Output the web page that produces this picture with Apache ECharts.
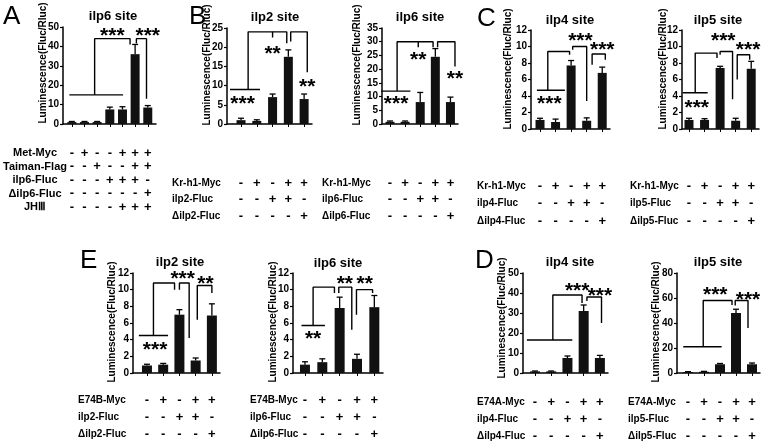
<!DOCTYPE html>
<html><head><meta charset="utf-8">
<script src="https://cdn.jsdelivr.net/npm/echarts@6/dist/echarts.min.js"></script>
<style>html,body{margin:0;padding:0;background:#fff}#c{width:762px;height:445px}</style>
</head><body><div id="c"></div>
<script>
// ================= DATA =================
// Panel A : ilp6 site (Met / Taiman)
const A_title = 'ilp6 site';
const A_rowNames = ['Met-Myc', 'Taiman-Flag', 'ilp6-Fluc', 'Δilp6-Fluc', 'JHⅢ'];
const A_signs = ['-+--+++', '--+--++', '---+++-', '------+', '----+++'];
const A_values = [1.0, 1.0, 1.0, 7.5, 7.5, 36, 8.5];
const A_errors = [0.3, 0.3, 0.3, 1.2, 1.4, 5, 1.0];
const A_yTicks = [0, 10, 20, 30, 40, 50];
const A_brackets = [
  [[-0.2, 15], [4.05, 15]],
  [[1.8, 15], [1.8, 44], [4.6, 44], [4.6, 41]],
  [[5.1, 41.5], [5.1, 44], [5.9, 44], [5.9, 13]]
];
const A_stars = [[3.2, 48, '***'], [6.0, 48, '***']];

// Panel B left : ilp2 site (Kr-h1)
const B2_title = 'ilp2 site';
const B2_rowNames = ['Kr-h1-Myc', 'ilp2-Fluc', 'Δilp2-Fluc'];
const B2_signs = ['-+-++', '--++-', '----+'];
const B2_values = [1.0, 0.8, 7.0, 17.5, 6.5];
const B2_errors = [0.5, 0.3, 0.8, 1.8, 1.3];
const B2_yTicks = [0, 5, 10, 15, 20, 25];
const B2_brackets = [
  [[-0.7, 9], [1.2, 9]],
  [[0.45, 9], [0.45, 24], [2.9, 24], [2.9, 21]],
  [[2.0, 24], [2.0, 22.5]],
  [[3.15, 21.5], [3.15, 24], [4.2, 24], [4.2, 13.5]]
];
const B2_stars = [[0.1, 6.5, '***'], [2.0, 19.5, '**'], [4.2, 11, '**']];

// Panel B right : ilp6 site (Kr-h1)
const B6_title = 'ilp6 site';
const B6_rowNames = ['Kr-h1-Myc', 'ilp6-Fluc', 'Δilp6-Fluc'];
const B6_signs = ['-+-++', '--++-', '----+'];
const B6_values = [0.8, 0.8, 8.0, 24.5, 8.0];
const B6_errors = [0.3, 0.3, 3.5, 3.0, 1.8];
const B6_yTicks = [0, 5, 10, 15, 20, 25, 30, 35];
const B6_brackets = [
  [[-0.6, 12], [1.35, 12]],
  [[0.47, 12], [0.47, 30], [2.85, 30], [2.85, 28]],
  [[1.87, 30], [1.87, 28]],
  [[3.15, 28], [3.15, 30], [4.3, 30], [4.3, 21]]
];
const B6_stars = [[0.4, 9, '***'], [1.87, 25, '**'], [4.3, 18, '**']];

// Panel C left : ilp4 site (Kr-h1)
const C4_title = 'ilp4 site';
const C4_rowNames = ['Kr-h1-Myc', 'ilp4-Fluc', 'Δilp4-Fluc'];
const C4_signs = ['-+-++', '--++-', '----+'];
const C4_values = [1.1, 0.85, 7.7, 1.0, 6.8];
const C4_errors = [0.2, 0.35, 0.6, 0.35, 0.7];
const C4_yTicks = [0, 2, 4, 6, 8, 10, 12];
const C4_brackets = [
  [[-0.2, 4.7], [1.6, 4.7]],
  [[0.5, 4.7], [0.5, 9.4], [1.9, 9.4], [1.9, 9.0]],
  [[2.1, 9.6], [2.1, 10], [3.0, 10], [3.0, 3.4]],
  [[3.35, 7.8], [3.35, 9.1], [4.2, 9.1], [4.2, 8.4]]
];
const C4_stars = [[0.6, 3.6, '***'], [2.6, 11.2, '***'], [4.0, 10.1, '***']];

// Panel C right : ilp5 site (Kr-h1)
const C5_title = 'ilp5 site';
const C5_rowNames = ['Kr-h1-Myc', 'ilp5-Fluc', 'Δilp5-Fluc'];
const C5_signs = ['-+-++', '--++-', '----+'];
const C5_values = [1.1, 1.1, 7.4, 1.0, 7.3];
const C5_errors = [0.2, 0.15, 0.2, 0.3, 0.9];
const C5_yTicks = [0, 2, 4, 6, 8, 10, 12];
const C5_brackets = [
  [[-0.4, 4.4], [1.2, 4.4]],
  [[0.4, 4.4], [0.4, 9.2], [1.8, 9.2], [1.8, 8.6]],
  [[2.0, 9.0], [2.0, 9.4], [2.8, 9.4], [2.8, 3.6]],
  [[3.1, 6.0], [3.1, 9.0], [3.9, 9.0], [3.9, 8.4]]
];
const C5_stars = [[0.5, 3.1, '***'], [2.2, 11.2, '***'], [3.8, 10.2, '***']];

// Panel E left : ilp2 site (E74B)
const E2_title = 'ilp2 site';
const E2_rowNames = ['E74B-Myc', 'ilp2-Fluc', 'Δilp2-Fluc'];
const E2_signs = ['-+-++', '--++-', '----+'];
const E2_values = [0.9, 1.0, 7.0, 1.5, 6.9];
const E2_errors = [0.15, 0.15, 0.6, 0.3, 1.4];
const E2_yTicks = [0, 2, 4, 6, 8, 10, 12];
const E2_brackets = [
  [[-0.5, 4.5], [1.3, 4.5]],
  [[0.4, 4.5], [0.4, 10.8], [1.7, 10.8], [1.7, 10.0]],
  [[2.0, 10.0], [2.0, 10.8], [2.6, 10.8], [2.6, 4.2]],
  [[3.1, 6.4], [3.1, 10.5], [4.0, 10.5], [4.0, 9.6]]
];
const E2_stars = [[0.5, 3.3, '***'], [2.2, 11.8, '***'], [3.6, 11.3, '**']];

// Panel E right : ilp6 site (E74B)
const E6_title = 'ilp6 site';
const E6_rowNames = ['E74B-Myc', 'ilp6-Fluc', 'Δilp6-Fluc'];
const E6_signs = ['-+-++', '--++-', '----+'];
const E6_values = [1.0, 1.3, 7.8, 1.7, 7.9];
const E6_errors = [0.35, 0.4, 1.3, 0.55, 1.4];
const E6_yTicks = [0, 2, 4, 6, 8, 10, 12];
const E6_brackets = [
  [[-0.2, 5.7], [1.15, 5.7]],
  [[0.47, 5.7], [0.47, 10.3], [1.7, 10.3], [1.7, 9.6]],
  [[1.95, 9.6], [1.95, 10.3], [2.7, 10.3], [2.7, 5.2]],
  [[2.97, 7.0], [2.97, 10.0], [3.9, 10.0], [3.9, 9.6]]
];
const E6_stars = [[0.47, 4.6, '**'], [2.3, 11.2, '**'], [3.45, 11.2, '**']];

// Panel D left : ilp4 site (E74A)
const D4_title = 'ilp4 site';
const D4_rowNames = ['E74A-Myc', 'ilp4-Fluc', 'Δilp4-Fluc'];
const D4_signs = ['-+-++', '--++-', '----+'];
const D4_values = [0.8, 0.8, 7.5, 31, 7.5];
const D4_errors = [0.2, 0.2, 1.0, 3.0, 1.3];
const D4_yTicks = [0, 10, 20, 30, 40, 50];
const D4_brackets = [
  [[-0.5, 16.5], [2.3, 16.5]],
  [[1.1, 16.5], [1.1, 39], [2.9, 39], [2.9, 35]],
  [[3.2, 36], [3.2, 38], [4.1, 38], [4.1, 25]]
];
const D4_stars = [[2.6, 43.5, '***'], [4.0, 41, '***']];

// Panel D right : ilp5 site (E74A)
const D5_title = 'ilp5 site';
const D5_rowNames = ['E74A-Myc', 'ilp5-Fluc', 'Δilp5-Fluc'];
const D5_signs = ['-+-++', '--++-', '----+'];
const D5_values = [0.8, 1.0, 7.0, 48, 7.0];
const D5_errors = [0.3, 0.3, 0.6, 3.0, 1.0];
const D5_yTicks = [0, 20, 40, 60, 80];
const D5_brackets = [
  [[-0.3, 21], [2.1, 21]],
  [[0.95, 21], [0.95, 58], [2.75, 58], [2.75, 54.5]],
  [[2.95, 54], [2.95, 58], [3.75, 58], [3.75, 36]]
];
const D5_stars = [[1.7, 66, '***'], [3.75, 62, '***']];

// ================= LAYOUT (pixels / styles only) =================
const FONT = '"Liberation Sans", Arial, sans-serif';
const panels = [
  {d: {title: A_title, rows: A_rowNames, signs: A_signs, values: A_values, errors: A_errors, yTicks: A_yTicks, brackets: A_brackets, stars: A_stars},
   left: 63, right: 156, top: 27, bottom: 124, xmin: -0.7, xmax: 6.65, barW: 9,
   ylabX: 43, ylabY: 63, titleX: 113, titleY: 16, rowX: 35, rowAlign: 'center', rowY0: 153, rowGap: 13.5, rowFont: 11},
  {d: {title: B2_title, rows: B2_rowNames, signs: B2_signs, values: B2_values, errors: B2_errors, yTicks: B2_yTicks, brackets: B2_brackets, stars: B2_stars},
   left: 227, right: 312, top: 28, bottom: 124, xmin: -0.89, xmax: 4.5, barW: 9,
   ylabX: 207, ylabY: 65, titleX: 275, titleY: 17, rowX: 172, rowAlign: 'left', rowY0: 183, rowGap: 16.5, rowFont: 10},
  {d: {title: B6_title, rows: B6_rowNames, signs: B6_signs, values: B6_values, errors: B6_errors, yTicks: B6_yTicks, brackets: B6_brackets, stars: B6_stars},
   left: 382, right: 458, top: 28, bottom: 124, xmin: -0.53, xmax: 4.5, barW: 9,
   ylabX: 357, ylabY: 65, titleX: 420, titleY: 17, rowX: 322, rowAlign: 'left', rowY0: 183, rowGap: 16.5, rowFont: 10},
  {d: {title: C4_title, rows: C4_rowNames, signs: C4_signs, values: C4_values, errors: C4_errors, yTicks: C4_yTicks, brackets: C4_brackets, stars: C4_stars},
   left: 531, right: 610, top: 30, bottom: 129, xmin: -0.58, xmax: 4.5, barW: 9,
   ylabX: 508, ylabY: 69, titleX: 570, titleY: 20, rowX: 477, rowAlign: 'left', rowY0: 186, rowGap: 17.5, rowFont: 10},
  {d: {title: C5_title, rows: C5_rowNames, signs: C5_signs, values: C5_values, errors: C5_errors, yTicks: C5_yTicks, brackets: C5_brackets, stars: C5_stars},
   left: 682, right: 759, top: 30, bottom: 129, xmin: -0.45, xmax: 4.5, barW: 9,
   ylabX: 663, ylabY: 69, titleX: 718, titleY: 20, rowX: 630, rowAlign: 'left', rowY0: 186, rowGap: 17.5, rowFont: 10},
  {d: {title: E2_title, rows: E2_rowNames, signs: E2_signs, values: E2_values, errors: E2_errors, yTicks: E2_yTicks, brackets: E2_brackets, stars: E2_stars},
   left: 133, right: 220, top: 273, bottom: 373, xmin: -0.86, xmax: 4.5, barW: 10,
   ylabX: 112, ylabY: 322, titleX: 180, titleY: 262, rowX: 78, rowAlign: 'left', rowY0: 400, rowGap: 17, rowFont: 10},
  {d: {title: E6_title, rows: E6_rowNames, signs: E6_signs, values: E6_values, errors: E6_errors, yTicks: E6_yTicks, brackets: E6_brackets, stars: E6_stars},
   left: 293, right: 383, top: 273, bottom: 373, xmin: -0.69, xmax: 4.5, barW: 10,
   ylabX: 273, ylabY: 322, titleX: 338, titleY: 263, rowX: 250, rowAlign: 'left', rowY0: 400, rowGap: 17, rowFont: 10},
  {d: {title: D4_title, rows: D4_rowNames, signs: D4_signs, values: D4_values, errors: D4_errors, yTicks: D4_yTicks, brackets: D4_brackets, stars: D4_stars},
   left: 523, right: 608, top: 273, bottom: 373, xmin: -0.74, xmax: 4.5, barW: 10,
   ylabX: 502, ylabY: 318, titleX: 570, titleY: 262, rowX: 477, rowAlign: 'left', rowY0: 402, rowGap: 17, rowFont: 10},
  {d: {title: D5_title, rows: D5_rowNames, signs: D5_signs, values: D5_values, errors: D5_errors, yTicks: D5_yTicks, brackets: D5_brackets, stars: D5_stars},
   left: 677, right: 760, top: 273, bottom: 373, xmin: -0.69, xmax: 4.5, barW: 10,
   ylabX: 656, ylabY: 322, titleX: 718, titleY: 262, rowX: 628, rowAlign: 'left', rowY0: 402, rowGap: 17, rowFont: 10}
];
const letters = [
  {t: 'A', x: 3, y: 4}, {t: 'B', x: 189, y: 4}, {t: 'C', x: 477, y: 6},
  {t: 'E', x: 80, y: 248}, {t: 'D', x: 475, y: 248}
];

// ================= BUILD =================
const grid = [], xAxis = [], yAxis = [], series = [], graphic = [];
const black = '#000';
panels.forEach((p, i) => {
  const d = p.d;
  const idx = d.values.map((_, k) => k);
  grid.push({left: p.left, top: p.top, width: p.right - p.left, height: p.bottom - p.top});
  xAxis.push({
    type: 'value', gridIndex: i, min: p.xmin, max: p.xmax,
    axisLine: {show: true, onZero: false, lineStyle: {color: black, width: 1.5}},
    axisTick: {show: true, customValues: idx, length: 3, lineStyle: {color: black, width: 1}},
    axisLabel: {
      show: true, customValues: idx, color: black, fontFamily: FONT, fontWeight: 'bold', fontSize: 13,
      lineHeight: p.rowGap, verticalAlign: 'top',
      margin: p.rowY0 - p.bottom - p.rowGap / 2,
      formatter: v => d.signs.map(s => s[Math.round(v)]).join('\n')
    },
    splitLine: {show: false}
  });
  const yt = d.yTicks;
  yAxis.push({
    type: 'value', gridIndex: i, min: yt[0], max: yt[yt.length - 1], interval: yt[1] - yt[0],
    axisLine: {show: true, onZero: false, lineStyle: {color: black, width: 1.5}},
    axisTick: {show: true, length: 3, lineStyle: {color: black, width: 1.2}},
    axisLabel: {color: black, fontFamily: FONT, fontWeight: 'bold', fontSize: 10, margin: 4},
    splitLine: {show: false}
  });
  series.push({
    type: 'bar', xAxisIndex: i, yAxisIndex: i, barWidth: p.barW,
    data: d.values.map((v, k) => [k, v]), itemStyle: {color: '#111'}, silent: true, animation: false
  });
  series.push({
    type: 'custom', xAxisIndex: i, yAxisIndex: i, silent: true, animation: false, z: 3,
    data: d.values.map((v, k) => [k, v, d.errors[k]]),
    renderItem: (params, api) => {
      const x = api.value(0), v = api.value(1), e = api.value(2);
      const b = api.coord([x, v]), t = api.coord([x, v + e]);
      return {type: 'group', children: [
        {type: 'line', shape: {x1: b[0], y1: b[1], x2: t[0], y2: t[1]}, style: {stroke: black, lineWidth: 1.3}},
        {type: 'line', shape: {x1: t[0] - 3, y1: t[1], x2: t[0] + 3, y2: t[1]}, style: {stroke: black, lineWidth: 1.3}}
      ]};
    }
  });
  d.brackets.forEach(poly => {
    series.push({
      type: 'line', xAxisIndex: i, yAxisIndex: i, data: poly, symbol: 'none', showSymbol: false,
      lineStyle: {color: black, width: 1.4}, silent: true, animation: false, z: 4
    });
  });
  series.push({
    type: 'custom', xAxisIndex: i, yAxisIndex: i, silent: true, animation: false, z: 5,
    data: d.stars.map(s => [s[0], s[1]]),
    renderItem: (params, api) => {
      const pt = api.coord([api.value(0), api.value(1)]);
      return {type: 'text', x: pt[0], y: pt[1] + 5,
        style: {text: d.stars[params.dataIndex][2], fontFamily: FONT, fontWeight: 'bold', fontSize: 21,
          align: 'center', verticalAlign: 'middle', fill: black}};
    }
  });
  graphic.push({type: 'text', x: p.titleX, y: p.titleY, silent: true,
    style: {text: d.title, fontFamily: FONT, fontWeight: 'bold', fontSize: 13, align: 'center', verticalAlign: 'middle', fill: black}});
  graphic.push({type: 'text', x: p.ylabX, y: p.ylabY, rotation: Math.PI / 2, silent: true,
    style: {text: 'Luminescence(Fluc/Rluc)', fontFamily: FONT, fontWeight: 'bold', fontSize: 10, align: 'center', verticalAlign: 'middle', fill: black}});
  d.rows.forEach((name, r) => {
    graphic.push({type: 'text', x: p.rowX, y: p.rowY0 + r * p.rowGap, silent: true,
      style: {text: name, fontFamily: FONT, fontWeight: 'bold', fontSize: p.rowFont, align: p.rowAlign, verticalAlign: 'middle', fill: black}});
  });
});
letters.forEach(l => {
  graphic.push({type: 'text', x: l.x, y: l.y, silent: true,
    style: {text: l.t, fontFamily: FONT, fontSize: 26, align: 'left', verticalAlign: 'top', fill: black}});
});

const chart = echarts.init(document.getElementById('c'), null, {renderer: 'canvas'});
chart.setOption({animation: false, grid, xAxis, yAxis, series, graphic});
</script>
</body></html>
